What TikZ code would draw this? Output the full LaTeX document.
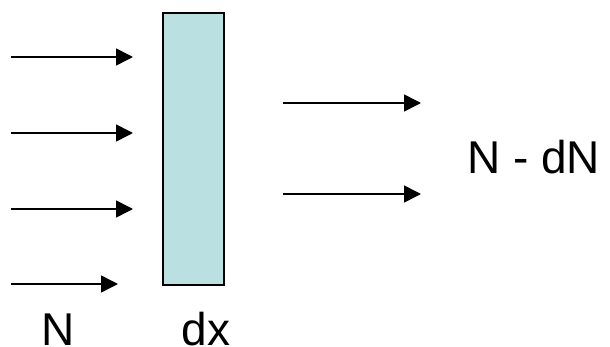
\documentclass[tikz,border=0pt]{standalone}
\usepackage{fontspec}
\setmainfont{Liberation Sans}
\usetikzlibrary{arrows.meta}
\definecolor{slabfill}{HTML}{BAE0E2}
\tikzset{
  flow/.style={line width=1.6pt, -{Triangle[length=17pt, width=17pt]}},
  slab/.style={draw=black, line width=1.6pt, fill=slabfill},
  lbl/.style={font=\fontsize{46}{50}\selectfont, anchor=base, inner sep=0pt}
}
\begin{document}
\begin{tikzpicture}[x=1pt, y=-1pt]
  \useasboundingbox (0,0) rectangle (610,347);
  % absorbing slab of thickness dx
  \node[slab, minimum width=61pt, minimum height=272pt, inner sep=0pt, anchor=north west] (slab) at (162,12) {};
  % incoming beam
  \coordinate (i1s) at (11,57);  \coordinate (i1e) at (133,57);
  \coordinate (i2s) at (11,133); \coordinate (i2e) at (133,133);
  \coordinate (i3s) at (11,209); \coordinate (i3e) at (133,209);
  \coordinate (i4s) at (11,284); \coordinate (i4e) at (118,284);
  \draw[flow] (i1s) -- (i1e);
  \draw[flow] (i2s) -- (i2e);
  \draw[flow] (i3s) -- (i3e);
  \draw[flow] (i4s) -- (i4e);
  % transmitted beam
  \coordinate (o1s) at (283,103); \coordinate (o1e) at (421,103);
  \coordinate (o2s) at (283,194); \coordinate (o2e) at (421,194);
  \draw[flow] (o1s) -- (o1e);
  \draw[flow] (o2s) -- (o2e);
  % labels
  \node[lbl, anchor=base west] (out) at (467,174) {N - dN};
  \node[lbl] (nin) at (58,345) {N};
  \node[lbl] (dx) at (206,345) {dx};
\end{tikzpicture}
\end{document}
